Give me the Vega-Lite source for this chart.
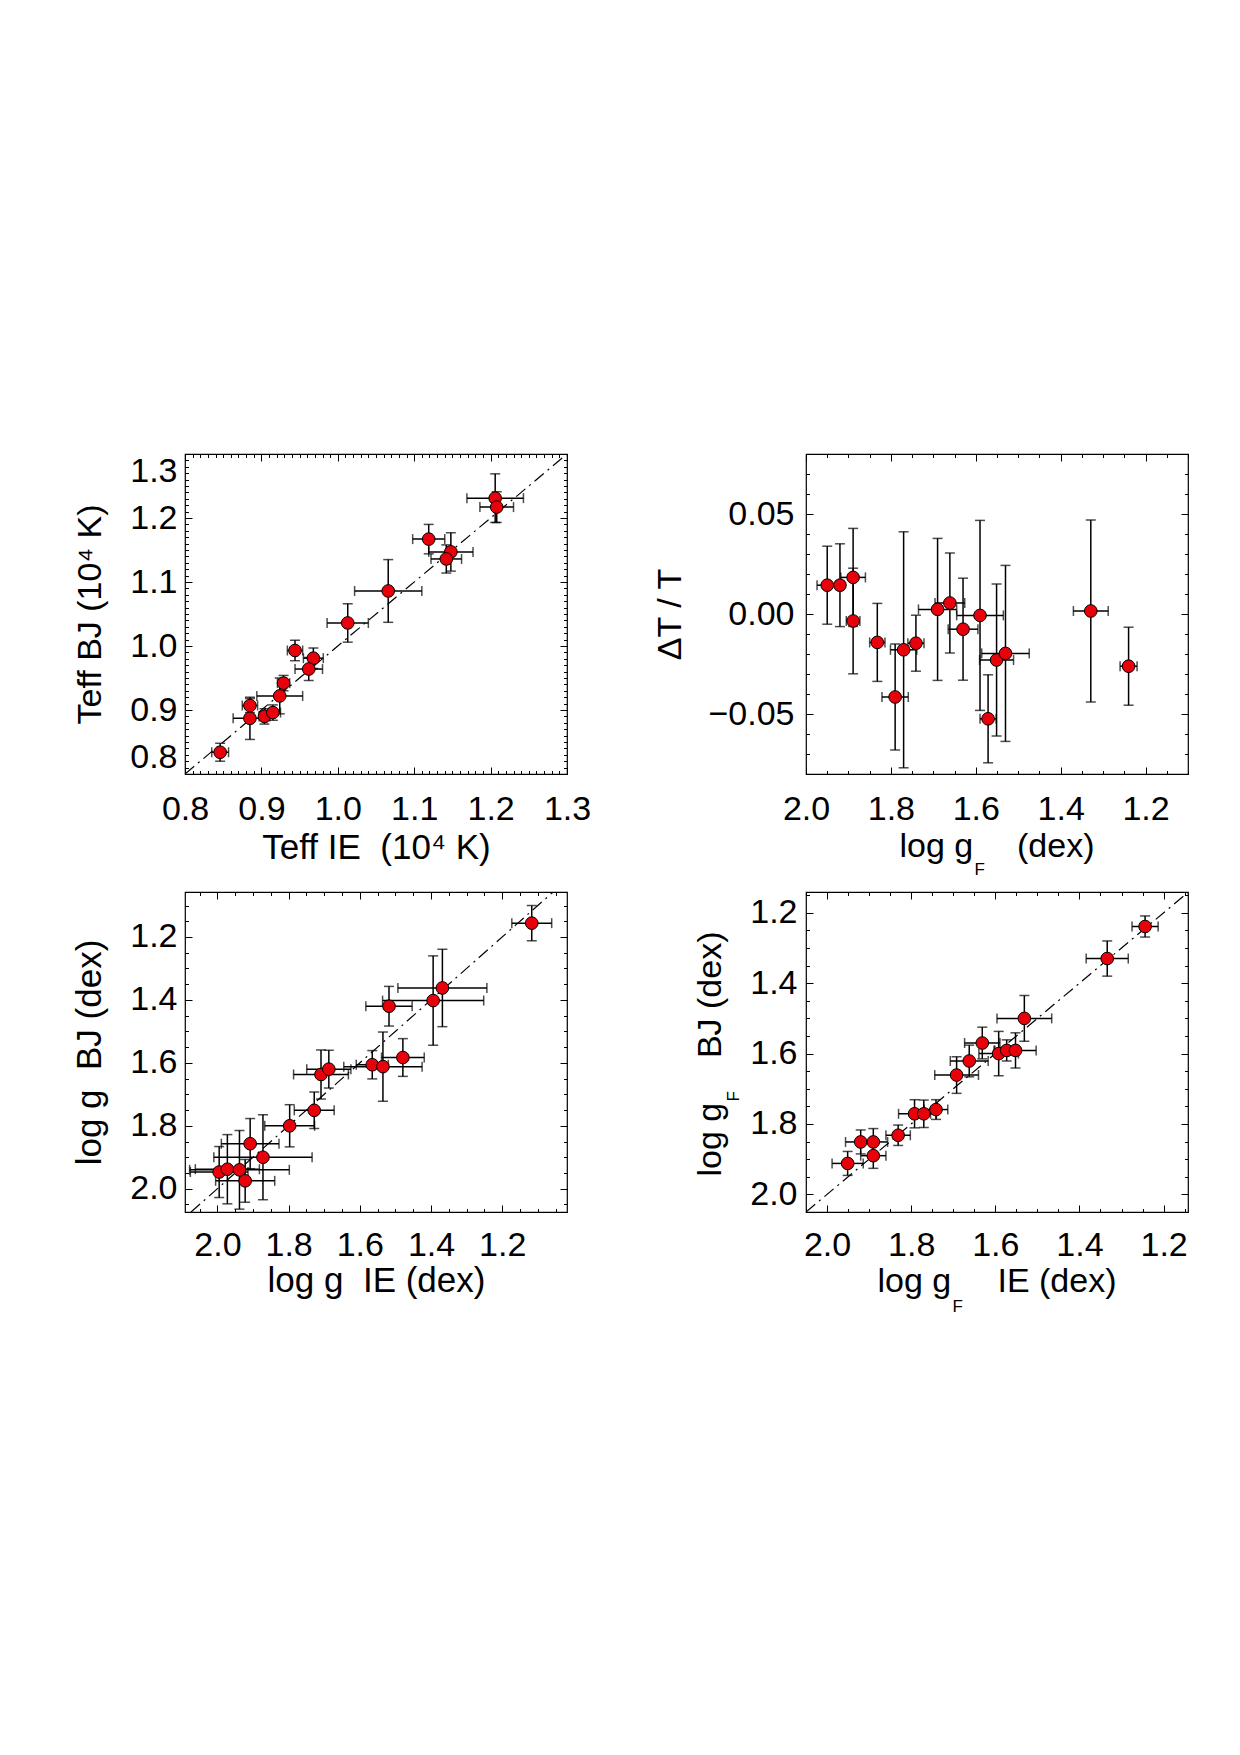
{
"$schema": "https://vega.github.io/schema/vega-lite/v6.json",
"background": "white",
"padding": {"left": 71, "top": 452, "right": 10, "bottom": 10},
"config": {
  "view": {"stroke": "black", "strokeWidth": 1.2},
  "axis": {"grid": false, "domain": false, "labelFont": "Liberation Sans", "titleFont": "Liberation Sans", "labelColor": "black", "titleColor": "black", "tickColor": "black", "labelFontSize": 34, "titleFontSize": 34, "titleFontWeight": "normal", "labelOverlap": false, "labelFlush": false, "tickWidth": 1}
},
"datasets": {
  "teff": [
    {"x":0.846,"ex":0.011,"y":0.834,"ey":0.014},
    {"x":0.885,"ex":0.010,"y":0.907,"ey":0.011},
    {"x":0.885,"ex":0.022,"y":0.887,"ey":0.033},
    {"x":0.904,"ex":0.007,"y":0.890,"ey":0.012},
    {"x":0.915,"ex":0.010,"y":0.896,"ey":0.012},
    {"x":0.924,"ex":0.030,"y":0.922,"ey":0.028},
    {"x":0.929,"ex":0.008,"y":0.942,"ey":0.012},
    {"x":0.944,"ex":0.010,"y":0.993,"ey":0.016},
    {"x":0.968,"ex":0.013,"y":0.981,"ey":0.016},
    {"x":0.962,"ex":0.018,"y":0.964,"ey":0.018},
    {"x":1.013,"ex":0.027,"y":1.036,"ey":0.030},
    {"x":1.066,"ex":0.044,"y":1.086,"ey":0.049},
    {"x":1.119,"ex":0.021,"y":1.167,"ey":0.023},
    {"x":1.148,"ex":0.029,"y":1.147,"ey":0.030},
    {"x":1.142,"ex":0.020,"y":1.136,"ey":0.022},
    {"x":1.206,"ex":0.037,"y":1.231,"ey":0.038},
    {"x":1.208,"ex":0.022,"y":1.217,"ey":0.024}
  ],
  "dt": [
    {"x":1.950,"ex":0.024,"y":0.0144,"ey":0.0195},
    {"x":1.920,"ex":0.010,"y":0.0144,"ey":0.0207},
    {"x":1.889,"ex":0.029,"y":0.0183,"ey":0.0245},
    {"x":1.889,"ex":0.016,"y":-0.0035,"ey":0.0264},
    {"x":1.832,"ex":0.018,"y":-0.0142,"ey":0.0195},
    {"x":1.790,"ex":0.031,"y":-0.0415,"ey":0.0265},
    {"x":1.770,"ex":0.031,"y":-0.0179,"ey":0.059},
    {"x":1.741,"ex":0.019,"y":-0.0146,"ey":0.014},
    {"x":1.690,"ex":0.045,"y":0.0023,"ey":0.0355},
    {"x":1.661,"ex":0.035,"y":0.0055,"ey":0.025},
    {"x":1.630,"ex":0.035,"y":-0.0076,"ey":0.0255},
    {"x":1.590,"ex":0.055,"y":-0.0007,"ey":0.0475},
    {"x":1.571,"ex":0.019,"y":-0.0524,"ey":0.022},
    {"x":1.551,"ex":0.040,"y":-0.0230,"ey":0.038},
    {"x":1.530,"ex":0.056,"y":-0.0197,"ey":0.044},
    {"x":1.329,"ex":0.041,"y":0.0015,"ey":0.0455},
    {"x":1.240,"ex":0.020,"y":-0.0261,"ey":0.0195}
  ],
  "logg": [
    {"x":1.995,"ex":0.081,"y":1.947,"ey":0.081},
    {"x":1.972,"ex":0.090,"y":1.938,"ey":0.110},
    {"x":1.938,"ex":0.140,"y":1.940,"ey":0.125},
    {"x":1.922,"ex":0.083,"y":1.975,"ey":0.068},
    {"x":1.908,"ex":0.081,"y":1.857,"ey":0.080},
    {"x":1.872,"ex":0.138,"y":1.900,"ey":0.135},
    {"x":1.797,"ex":0.070,"y":1.800,"ey":0.067},
    {"x":1.728,"ex":0.056,"y":1.751,"ey":0.058},
    {"x":1.709,"ex":0.077,"y":1.637,"ey":0.078},
    {"x":1.687,"ex":0.062,"y":1.620,"ey":0.060},
    {"x":1.565,"ex":0.045,"y":1.606,"ey":0.045},
    {"x":1.535,"ex":0.110,"y":1.612,"ey":0.110},
    {"x":1.479,"ex":0.060,"y":1.583,"ey":0.060},
    {"x":1.518,"ex":0.065,"y":1.420,"ey":0.063},
    {"x":1.394,"ex":0.142,"y":1.402,"ey":0.142},
    {"x":1.368,"ex":0.125,"y":1.362,"ey":0.123},
    {"x":1.117,"ex":0.056,"y":1.156,"ey":0.056}
  ],
  "loggf": [
    {"x":1.951,"ex":0.037,"y":1.912,"ey":0.034},
    {"x":1.920,"ex":0.036,"y":1.851,"ey":0.034},
    {"x":1.890,"ex":0.034,"y":1.851,"ey":0.038},
    {"x":1.890,"ex":0.030,"y":1.890,"ey":0.036},
    {"x":1.831,"ex":0.029,"y":1.832,"ey":0.029},
    {"x":1.792,"ex":0.038,"y":1.771,"ey":0.040},
    {"x":1.770,"ex":0.030,"y":1.771,"ey":0.039},
    {"x":1.741,"ex":0.028,"y":1.759,"ey":0.028},
    {"x":1.692,"ex":0.052,"y":1.661,"ey":0.052},
    {"x":1.662,"ex":0.045,"y":1.621,"ey":0.045},
    {"x":1.631,"ex":0.042,"y":1.570,"ey":0.045},
    {"x":1.592,"ex":0.047,"y":1.600,"ey":0.063},
    {"x":1.573,"ex":0.030,"y":1.591,"ey":0.030},
    {"x":1.552,"ex":0.049,"y":1.591,"ey":0.050},
    {"x":1.531,"ex":0.065,"y":1.500,"ey":0.065},
    {"x":1.334,"ex":0.050,"y":1.330,"ey":0.050},
    {"x":1.244,"ex":0.031,"y":1.239,"ey":0.030}
  ],
  "diag1": [{"x":0.8,"y":0.8},{"x":1.3,"y":1.3}],
  "diag3": [{"x":1.057,"y":1.057},{"x":2.074,"y":2.074}],
  "diag4": [{"x":1.142,"y":1.142},{"x":2.05,"y":2.05}]
},
"columns": 2,
"spacing": {"row": 118, "column": 239},
"bounds": "flush",
"concat": [
{
  "width": 382, "height": 320,
  "data": {"name": "teff"},
  "resolve": {"axis": {"x": "independent", "y": "independent"}},
  "layer": [
    {"data": {"name": "diag1"},
     "mark": {"type": "line", "color": "black", "strokeWidth": 1.2, "strokeDash": [12, 5, 2, 5], "clip": true},
     "encoding": {
       "x": {"field": "x", "type": "quantitative", "scale": {"domain": [0.8, 1.3], "nice": false, "zero": false},
             "axis": {"orient": "bottom", "values": [0.8, 0.9, 1.0, 1.1, 1.2, 1.3], "format": ".1f", "ticks": false, "labelPadding": 45, "labelBaseline": "alphabetic", "title": "Teff IE\u00a0\u00a0(10⁴ K)", "titleFontSize": 35, "titleX": 191, "titleY": 84, "titleAlign": "center", "titleBaseline": "alphabetic", "titleAngle": 0}},
       "y": {"field": "y", "type": "quantitative", "scale": {"domain": [0.8, 1.3], "nice": false, "zero": false},
             "axis": {"orient": "left", "values": [0.8, 0.9, 1.0, 1.1, 1.2, 1.3], "format": ".1f", "ticks": false, "labelPadding": 8, "labelFlush": true, "title": "Teff BJ (10⁴ K)", "titleX": -85, "titleY": 160, "titleAlign": "center", "titleBaseline": "alphabetic", "titleAngle": 270}}
     }},
    {"mark": {"type": "errorbar", "color": "black", "thickness": 1.5, "ticks": {"size": 10, "color": "black"}},
     "encoding": {
       "x": {"field": "x", "type": "quantitative", "scale": {"domain": [0.8, 1.3], "nice": false, "zero": false}, "axis": null},
       "xError": {"field": "ex"},
       "y": {"field": "y", "type": "quantitative", "scale": {"domain": [0.8, 1.3], "nice": false, "zero": false}, "axis": null}
     }},
    {"mark": {"type": "errorbar", "color": "black", "thickness": 1.5, "ticks": {"size": 10, "color": "black"}},
     "encoding": {
       "y": {"field": "y", "type": "quantitative", "scale": {"domain": [0.8, 1.3], "nice": false, "zero": false}, "axis": null},
       "yError": {"field": "ey"},
       "x": {"field": "x", "type": "quantitative", "scale": {"domain": [0.8, 1.3], "nice": false, "zero": false}, "axis": null}
     }},
    {"mark": {"type": "point", "shape": "circle", "filled": true, "fill": "#e8000b", "stroke": "black", "strokeWidth": 1, "size": 160, "opacity": 1},
     "encoding": {
       "x": {"field": "x", "type": "quantitative", "scale": {"domain": [0.8, 1.3], "nice": false, "zero": false},
             "axis": {"orient": "bottom", "values": [0.8, 0.9, 1.0, 1.1, 1.2, 1.3], "labels": false, "ticks": true, "tickSize": -7, "title": null}},
       "y": {"field": "y", "type": "quantitative", "scale": {"domain": [0.8, 1.3], "nice": false, "zero": false},
             "axis": {"orient": "left", "values": [0.8, 0.9, 1.0, 1.1, 1.2, 1.3], "labels": false, "ticks": true, "tickSize": -7, "title": null}}
     }},
    {"mark": {"type": "point", "opacity": 0},
     "encoding": {
       "x": {"field": "x", "type": "quantitative", "scale": {"domain": [0.8, 1.3], "nice": false, "zero": false},
             "axis": {"orient": "top", "values": [0.8, 0.9, 1.0, 1.1, 1.2, 1.3], "labels": false, "ticks": true, "tickSize": -7, "title": null}},
       "y": {"field": "y", "type": "quantitative", "scale": {"domain": [0.8, 1.3], "nice": false, "zero": false},
             "axis": {"orient": "right", "values": [0.8, 0.9, 1.0, 1.1, 1.2, 1.3], "labels": false, "ticks": true, "tickSize": -7, "title": null}}
     }},
    {"mark": {"type": "point", "opacity": 0},
     "encoding": {
       "x": {"field": "x", "type": "quantitative", "scale": {"domain": [0.8, 1.3], "nice": false, "zero": false},
             "axis": {"orient": "bottom", "values": [0.8,0.81,0.82,0.83,0.84,0.85,0.86,0.87,0.88,0.89,0.9,0.91,0.92,0.93,0.94,0.95,0.96,0.97,0.98,0.99,1.0,1.01,1.02,1.03,1.04,1.05,1.06,1.07,1.08,1.09,1.1,1.11,1.12,1.13,1.14,1.15,1.16,1.17,1.18,1.19,1.2,1.21,1.22,1.23,1.24,1.25,1.26,1.27,1.28,1.29,1.3], "labels": false, "ticks": true, "tickSize": -3.5, "title": null}},
       "y": {"field": "y", "type": "quantitative", "scale": {"domain": [0.8, 1.3], "nice": false, "zero": false},
             "axis": {"orient": "left", "values": [0.8,0.81,0.82,0.83,0.84,0.85,0.86,0.87,0.88,0.89,0.9,0.91,0.92,0.93,0.94,0.95,0.96,0.97,0.98,0.99,1.0,1.01,1.02,1.03,1.04,1.05,1.06,1.07,1.08,1.09,1.1,1.11,1.12,1.13,1.14,1.15,1.16,1.17,1.18,1.19,1.2,1.21,1.22,1.23,1.24,1.25,1.26,1.27,1.28,1.29,1.3], "labels": false, "ticks": true, "tickSize": -3.5, "title": null}}
     }},
    {"mark": {"type": "point", "opacity": 0},
     "encoding": {
       "x": {"field": "x", "type": "quantitative", "scale": {"domain": [0.8, 1.3], "nice": false, "zero": false},
             "axis": {"orient": "top", "values": [0.8,0.81,0.82,0.83,0.84,0.85,0.86,0.87,0.88,0.89,0.9,0.91,0.92,0.93,0.94,0.95,0.96,0.97,0.98,0.99,1.0,1.01,1.02,1.03,1.04,1.05,1.06,1.07,1.08,1.09,1.1,1.11,1.12,1.13,1.14,1.15,1.16,1.17,1.18,1.19,1.2,1.21,1.22,1.23,1.24,1.25,1.26,1.27,1.28,1.29,1.3], "labels": false, "ticks": true, "tickSize": -3.5, "title": null}},
       "y": {"field": "y", "type": "quantitative", "scale": {"domain": [0.8, 1.3], "nice": false, "zero": false},
             "axis": {"orient": "right", "values": [0.8,0.81,0.82,0.83,0.84,0.85,0.86,0.87,0.88,0.89,0.9,0.91,0.92,0.93,0.94,0.95,0.96,0.97,0.98,0.99,1.0,1.01,1.02,1.03,1.04,1.05,1.06,1.07,1.08,1.09,1.1,1.11,1.12,1.13,1.14,1.15,1.16,1.17,1.18,1.19,1.2,1.21,1.22,1.23,1.24,1.25,1.26,1.27,1.28,1.29,1.3], "labels": false, "ticks": true, "tickSize": -3.5, "title": null}}
     }}
  ]
},
{
  "width": 382, "height": 320,
  "data": {"name": "dt"},
  "resolve": {"axis": {"x": "independent", "y": "independent"}},
  "layer": [
    {"mark": {"type": "point", "opacity": 0},
     "encoding": {
       "x": {"field": "x", "type": "quantitative", "scale": {"domain": [1.1, 2.0], "reverse": true, "nice": false, "zero": false},
             "axis": {"orient": "bottom", "values": [1.2, 1.4, 1.6, 1.8, 2.0], "format": ".1f", "ticks": false, "labelPadding": 45, "labelBaseline": "alphabetic", "title": "log g", "titleX": 93, "titleY": 82, "titleAlign": "left", "titleBaseline": "alphabetic", "titleAngle": 0}},
       "y": {"field": "y", "type": "quantitative", "scale": {"domain": [-0.08, 0.08], "nice": false, "zero": false},
             "axis": {"orient": "left", "values": [-0.05, 0, 0.05], "format": ".2f", "ticks": false, "labelPadding": 12, "title": "ΔT / T", "titleX": -126, "titleY": 160, "titleAlign": "center", "titleBaseline": "alphabetic", "titleAngle": 270}}
     }},
    {"mark": {"type": "errorbar", "color": "black", "thickness": 1.5, "ticks": {"size": 10, "color": "black"}},
     "encoding": {
       "x": {"field": "x", "type": "quantitative", "scale": {"domain": [1.1, 2.0], "reverse": true, "nice": false, "zero": false}, "axis": null},
       "xError": {"field": "ex"},
       "y": {"field": "y", "type": "quantitative", "scale": {"domain": [-0.08, 0.08], "nice": false, "zero": false}, "axis": null}
     }},
    {"mark": {"type": "errorbar", "color": "black", "thickness": 1.5, "ticks": {"size": 10, "color": "black"}},
     "encoding": {
       "y": {"field": "y", "type": "quantitative", "scale": {"domain": [-0.08, 0.08], "nice": false, "zero": false}, "axis": null},
       "yError": {"field": "ey"},
       "x": {"field": "x", "type": "quantitative", "scale": {"domain": [1.1, 2.0], "reverse": true, "nice": false, "zero": false}, "axis": null}
     }},
    {"mark": {"type": "point", "shape": "circle", "filled": true, "fill": "#e8000b", "stroke": "black", "strokeWidth": 1, "size": 160, "opacity": 1},
     "encoding": {
       "x": {"field": "x", "type": "quantitative", "scale": {"domain": [1.1, 2.0], "reverse": true, "nice": false, "zero": false},
             "axis": {"orient": "bottom", "values": [1.2, 1.4, 1.6, 1.8, 2.0], "labels": false, "ticks": true, "tickSize": -7, "title": null}},
       "y": {"field": "y", "type": "quantitative", "scale": {"domain": [-0.08, 0.08], "nice": false, "zero": false},
             "axis": {"orient": "left", "values": [-0.05, 0, 0.05], "labels": false, "ticks": true, "tickSize": -7, "title": null}}
     }},
    {"mark": {"type": "point", "opacity": 0},
     "encoding": {
       "x": {"field": "x", "type": "quantitative", "scale": {"domain": [1.1, 2.0], "reverse": true, "nice": false, "zero": false},
             "axis": {"orient": "top", "values": [1.2, 1.4, 1.6, 1.8, 2.0], "labels": false, "ticks": true, "tickSize": -7, "title": null}},
       "y": {"field": "y", "type": "quantitative", "scale": {"domain": [-0.08, 0.08], "nice": false, "zero": false},
             "axis": {"orient": "right", "values": [-0.05, 0, 0.05], "labels": false, "ticks": true, "tickSize": -7, "title": null}}
     }},
    {"mark": {"type": "point", "opacity": 0},
     "encoding": {
       "x": {"field": "x", "type": "quantitative", "scale": {"domain": [1.1, 2.0], "reverse": true, "nice": false, "zero": false},
             "axis": {"orient": "bottom", "values": [1.1,1.15,1.2,1.25,1.3,1.35,1.4,1.45,1.5,1.55,1.6,1.65,1.7,1.75,1.8,1.85,1.9,1.95,2.0], "labels": false, "ticks": true, "tickSize": -3.5, "title": null}},
       "y": {"field": "y", "type": "quantitative", "scale": {"domain": [-0.08, 0.08], "nice": false, "zero": false},
             "axis": {"orient": "left", "values": [-0.08,-0.07,-0.06,-0.05,-0.04,-0.03,-0.02,-0.01,0,0.01,0.02,0.03,0.04,0.05,0.06,0.07,0.08], "labels": false, "ticks": true, "tickSize": -3.5, "title": null}}
     }},
    {"mark": {"type": "point", "opacity": 0},
     "encoding": {
       "x": {"field": "x", "type": "quantitative", "scale": {"domain": [1.1, 2.0], "reverse": true, "nice": false, "zero": false},
             "axis": {"orient": "top", "values": [1.1,1.15,1.2,1.25,1.3,1.35,1.4,1.45,1.5,1.55,1.6,1.65,1.7,1.75,1.8,1.85,1.9,1.95,2.0], "labels": false, "ticks": true, "tickSize": -3.5, "title": null}},
       "y": {"field": "y", "type": "quantitative", "scale": {"domain": [-0.08, 0.08], "nice": false, "zero": false},
             "axis": {"orient": "right", "values": [-0.08,-0.07,-0.06,-0.05,-0.04,-0.03,-0.02,-0.01,0,0.01,0.02,0.03,0.04,0.05,0.06,0.07,0.08], "labels": false, "ticks": true, "tickSize": -3.5, "title": null}}
     }},
    {"mark": {"type": "point", "opacity": 0},
     "encoding": {
       "x": {"field": "x", "type": "quantitative", "scale": {"domain": [1.1, 2.0], "reverse": true, "nice": false, "zero": false},
             "axis": {"orient": "bottom", "labels": false, "ticks": false, "title": "F", "titleFontSize": 17, "titleX": 168, "titleY": 100, "titleAlign": "left", "titleBaseline": "alphabetic", "titleAngle": 0}},
       "y": {"field": "y", "type": "quantitative", "scale": {"domain": [-0.08, 0.08], "nice": false, "zero": false}, "axis": null}
     }},
    {"mark": {"type": "point", "opacity": 0},
     "encoding": {
       "x": {"field": "x", "type": "quantitative", "scale": {"domain": [1.1, 2.0], "reverse": true, "nice": false, "zero": false},
             "axis": {"orient": "bottom", "labels": false, "ticks": false, "title": "(dex)", "titleX": 288, "titleY": 82, "titleAlign": "right", "titleBaseline": "alphabetic", "titleAngle": 0}},
       "y": {"field": "y", "type": "quantitative", "scale": {"domain": [-0.08, 0.08], "nice": false, "zero": false}, "axis": null}
     }}
  ]
},
{
  "width": 382, "height": 320,
  "data": {"name": "logg"},
  "resolve": {"axis": {"x": "independent", "y": "independent"}},
  "layer": [
    {"data": {"name": "diag3"},
     "mark": {"type": "line", "color": "black", "strokeWidth": 1.2, "strokeDash": [12, 5, 2, 5], "clip": true},
     "encoding": {
       "x": {"field": "x", "type": "quantitative", "scale": {"domain": [1.018, 2.091], "reverse": true, "nice": false, "zero": false},
             "axis": {"orient": "bottom", "values": [1.2, 1.4, 1.6, 1.8, 2.0], "format": ".1f", "ticks": false, "labelPadding": 43, "labelBaseline": "alphabetic", "title": "log g\u00a0\u00a0IE (dex)", "titleFontSize": 35, "titleX": 191, "titleY": 79, "titleAlign": "center", "titleBaseline": "alphabetic", "titleAngle": 0}},
       "y": {"field": "y", "type": "quantitative", "scale": {"domain": [1.057, 2.074], "reverse": true, "nice": false, "zero": false},
             "axis": {"orient": "left", "values": [1.2, 1.4, 1.6, 1.8, 2.0], "format": ".1f", "ticks": false, "labelPadding": 8, "title": "log g\u00a0\u00a0BJ (dex)", "titleFontSize": 35, "titleX": -85, "titleY": 160, "titleAlign": "center", "titleBaseline": "alphabetic", "titleAngle": 270}}
     }},
    {"mark": {"type": "errorbar", "color": "black", "thickness": 1.5, "ticks": {"size": 10, "color": "black"}},
     "encoding": {
       "x": {"field": "x", "type": "quantitative", "scale": {"domain": [1.018, 2.091], "reverse": true, "nice": false, "zero": false}, "axis": null},
       "xError": {"field": "ex"},
       "y": {"field": "y", "type": "quantitative", "scale": {"domain": [1.057, 2.074], "reverse": true, "nice": false, "zero": false}, "axis": null}
     }},
    {"mark": {"type": "errorbar", "color": "black", "thickness": 1.5, "ticks": {"size": 10, "color": "black"}},
     "encoding": {
       "y": {"field": "y", "type": "quantitative", "scale": {"domain": [1.057, 2.074], "reverse": true, "nice": false, "zero": false}, "axis": null},
       "yError": {"field": "ey"},
       "x": {"field": "x", "type": "quantitative", "scale": {"domain": [1.018, 2.091], "reverse": true, "nice": false, "zero": false}, "axis": null}
     }},
    {"mark": {"type": "point", "shape": "circle", "filled": true, "fill": "#e8000b", "stroke": "black", "strokeWidth": 1, "size": 160, "opacity": 1},
     "encoding": {
       "x": {"field": "x", "type": "quantitative", "scale": {"domain": [1.018, 2.091], "reverse": true, "nice": false, "zero": false},
             "axis": {"orient": "bottom", "values": [1.2, 1.4, 1.6, 1.8, 2.0], "labels": false, "ticks": true, "tickSize": -7, "title": null}},
       "y": {"field": "y", "type": "quantitative", "scale": {"domain": [1.057, 2.074], "reverse": true, "nice": false, "zero": false},
             "axis": {"orient": "left", "values": [1.2, 1.4, 1.6, 1.8, 2.0], "labels": false, "ticks": true, "tickSize": -7, "title": null}}
     }},
    {"mark": {"type": "point", "opacity": 0},
     "encoding": {
       "x": {"field": "x", "type": "quantitative", "scale": {"domain": [1.018, 2.091], "reverse": true, "nice": false, "zero": false},
             "axis": {"orient": "top", "values": [1.2, 1.4, 1.6, 1.8, 2.0], "labels": false, "ticks": true, "tickSize": -7, "title": null}},
       "y": {"field": "y", "type": "quantitative", "scale": {"domain": [1.057, 2.074], "reverse": true, "nice": false, "zero": false},
             "axis": {"orient": "right", "values": [1.2, 1.4, 1.6, 1.8, 2.0], "labels": false, "ticks": true, "tickSize": -7, "title": null}}
     }},
    {"mark": {"type": "point", "opacity": 0},
     "encoding": {
       "x": {"field": "x", "type": "quantitative", "scale": {"domain": [1.018, 2.091], "reverse": true, "nice": false, "zero": false},
             "axis": {"orient": "bottom", "values": [1.05,1.1,1.15,1.2,1.25,1.3,1.35,1.4,1.45,1.5,1.55,1.6,1.65,1.7,1.75,1.8,1.85,1.9,1.95,2.0,2.05], "labels": false, "ticks": true, "tickSize": -3.5, "title": null}},
       "y": {"field": "y", "type": "quantitative", "scale": {"domain": [1.057, 2.074], "reverse": true, "nice": false, "zero": false},
             "axis": {"orient": "left", "values": [1.1,1.15,1.2,1.25,1.3,1.35,1.4,1.45,1.5,1.55,1.6,1.65,1.7,1.75,1.8,1.85,1.9,1.95,2.0,2.05], "labels": false, "ticks": true, "tickSize": -3.5, "title": null}}
     }},
    {"mark": {"type": "point", "opacity": 0},
     "encoding": {
       "x": {"field": "x", "type": "quantitative", "scale": {"domain": [1.018, 2.091], "reverse": true, "nice": false, "zero": false},
             "axis": {"orient": "top", "values": [1.05,1.1,1.15,1.2,1.25,1.3,1.35,1.4,1.45,1.5,1.55,1.6,1.65,1.7,1.75,1.8,1.85,1.9,1.95,2.0,2.05], "labels": false, "ticks": true, "tickSize": -3.5, "title": null}},
       "y": {"field": "y", "type": "quantitative", "scale": {"domain": [1.057, 2.074], "reverse": true, "nice": false, "zero": false},
             "axis": {"orient": "right", "values": [1.1,1.15,1.2,1.25,1.3,1.35,1.4,1.45,1.5,1.55,1.6,1.65,1.7,1.75,1.8,1.85,1.9,1.95,2.0,2.05], "labels": false, "ticks": true, "tickSize": -3.5, "title": null}}
     }}
  ]
},
{
  "width": 382, "height": 320,
  "data": {"name": "loggf"},
  "resolve": {"axis": {"x": "independent", "y": "independent"}},
  "layer": [
    {"data": {"name": "diag4"},
     "mark": {"type": "line", "color": "black", "strokeWidth": 1.2, "strokeDash": [12, 5, 2, 5], "clip": true},
     "encoding": {
       "x": {"field": "x", "type": "quantitative", "scale": {"domain": [1.142, 2.05], "reverse": true, "nice": false, "zero": false},
             "axis": {"orient": "bottom", "values": [1.2, 1.4, 1.6, 1.8, 2.0], "format": ".1f", "ticks": false, "labelPadding": 43, "labelBaseline": "alphabetic", "title": "log g", "titleX": 71, "titleY": 79, "titleAlign": "left", "titleBaseline": "alphabetic", "titleAngle": 0}},
       "y": {"field": "y", "type": "quantitative", "scale": {"domain": [1.141, 2.05], "reverse": true, "nice": false, "zero": false},
             "axis": {"orient": "left", "values": [1.2, 1.4, 1.6, 1.8, 2.0], "format": ".1f", "ticks": false, "labelPadding": 9, "title": "log g", "titleX": -86, "titleY": 284, "titleAlign": "left", "titleBaseline": "alphabetic", "titleAngle": 270}}
     }},
    {"mark": {"type": "errorbar", "color": "black", "thickness": 1.5, "ticks": {"size": 10, "color": "black"}},
     "encoding": {
       "x": {"field": "x", "type": "quantitative", "scale": {"domain": [1.142, 2.05], "reverse": true, "nice": false, "zero": false}, "axis": null},
       "xError": {"field": "ex"},
       "y": {"field": "y", "type": "quantitative", "scale": {"domain": [1.141, 2.05], "reverse": true, "nice": false, "zero": false}, "axis": null}
     }},
    {"mark": {"type": "errorbar", "color": "black", "thickness": 1.5, "ticks": {"size": 10, "color": "black"}},
     "encoding": {
       "y": {"field": "y", "type": "quantitative", "scale": {"domain": [1.141, 2.05], "reverse": true, "nice": false, "zero": false}, "axis": null},
       "yError": {"field": "ey"},
       "x": {"field": "x", "type": "quantitative", "scale": {"domain": [1.142, 2.05], "reverse": true, "nice": false, "zero": false}, "axis": null}
     }},
    {"mark": {"type": "point", "shape": "circle", "filled": true, "fill": "#e8000b", "stroke": "black", "strokeWidth": 1, "size": 160, "opacity": 1},
     "encoding": {
       "x": {"field": "x", "type": "quantitative", "scale": {"domain": [1.142, 2.05], "reverse": true, "nice": false, "zero": false},
             "axis": {"orient": "bottom", "values": [1.2, 1.4, 1.6, 1.8, 2.0], "labels": false, "ticks": true, "tickSize": -7, "title": null}},
       "y": {"field": "y", "type": "quantitative", "scale": {"domain": [1.141, 2.05], "reverse": true, "nice": false, "zero": false},
             "axis": {"orient": "left", "values": [1.2, 1.4, 1.6, 1.8, 2.0], "labels": false, "ticks": true, "tickSize": -7, "title": null}}
     }},
    {"mark": {"type": "point", "opacity": 0},
     "encoding": {
       "x": {"field": "x", "type": "quantitative", "scale": {"domain": [1.142, 2.05], "reverse": true, "nice": false, "zero": false},
             "axis": {"orient": "top", "values": [1.2, 1.4, 1.6, 1.8, 2.0], "labels": false, "ticks": true, "tickSize": -7, "title": null}},
       "y": {"field": "y", "type": "quantitative", "scale": {"domain": [1.141, 2.05], "reverse": true, "nice": false, "zero": false},
             "axis": {"orient": "right", "values": [1.2, 1.4, 1.6, 1.8, 2.0], "labels": false, "ticks": true, "tickSize": -7, "title": null}}
     }},
    {"mark": {"type": "point", "opacity": 0},
     "encoding": {
       "x": {"field": "x", "type": "quantitative", "scale": {"domain": [1.142, 2.05], "reverse": true, "nice": false, "zero": false},
             "axis": {"orient": "bottom", "values": [1.15,1.2,1.25,1.3,1.35,1.4,1.45,1.5,1.55,1.6,1.65,1.7,1.75,1.8,1.85,1.9,1.95,2.0,2.05], "labels": false, "ticks": true, "tickSize": -3.5, "title": null}},
       "y": {"field": "y", "type": "quantitative", "scale": {"domain": [1.141, 2.05], "reverse": true, "nice": false, "zero": false},
             "axis": {"orient": "left", "values": [1.15,1.2,1.25,1.3,1.35,1.4,1.45,1.5,1.55,1.6,1.65,1.7,1.75,1.8,1.85,1.9,1.95,2.0,2.05], "labels": false, "ticks": true, "tickSize": -3.5, "title": null}}
     }},
    {"mark": {"type": "point", "opacity": 0},
     "encoding": {
       "x": {"field": "x", "type": "quantitative", "scale": {"domain": [1.142, 2.05], "reverse": true, "nice": false, "zero": false},
             "axis": {"orient": "top", "values": [1.15,1.2,1.25,1.3,1.35,1.4,1.45,1.5,1.55,1.6,1.65,1.7,1.75,1.8,1.85,1.9,1.95,2.0,2.05], "labels": false, "ticks": true, "tickSize": -3.5, "title": null}},
       "y": {"field": "y", "type": "quantitative", "scale": {"domain": [1.141, 2.05], "reverse": true, "nice": false, "zero": false},
             "axis": {"orient": "right", "values": [1.15,1.2,1.25,1.3,1.35,1.4,1.45,1.5,1.55,1.6,1.65,1.7,1.75,1.8,1.85,1.9,1.95,2.0,2.05], "labels": false, "ticks": true, "tickSize": -3.5, "title": null}}
     }},
    {"mark": {"type": "point", "opacity": 0},
     "encoding": {
       "x": {"field": "x", "type": "quantitative", "scale": {"domain": [1.142, 2.05], "reverse": true, "nice": false, "zero": false},
             "axis": {"orient": "bottom", "labels": false, "ticks": false, "title": "F", "titleFontSize": 17, "titleX": 146, "titleY": 99, "titleAlign": "left", "titleBaseline": "alphabetic", "titleAngle": 0}},
       "y": {"field": "y", "type": "quantitative", "scale": {"domain": [1.141, 2.05], "reverse": true, "nice": false, "zero": false},
             "axis": {"orient": "left", "labels": false, "ticks": false, "title": "F", "titleFontSize": 17, "titleX": -68, "titleY": 209, "titleAlign": "left", "titleBaseline": "alphabetic", "titleAngle": 270}}
     }},
    {"mark": {"type": "point", "opacity": 0},
     "encoding": {
       "x": {"field": "x", "type": "quantitative", "scale": {"domain": [1.142, 2.05], "reverse": true, "nice": false, "zero": false},
             "axis": {"orient": "bottom", "labels": false, "ticks": false, "title": "IE (dex)", "titleX": 310, "titleY": 79, "titleAlign": "right", "titleBaseline": "alphabetic", "titleAngle": 0}},
       "y": {"field": "y", "type": "quantitative", "scale": {"domain": [1.141, 2.05], "reverse": true, "nice": false, "zero": false},
             "axis": {"orient": "left", "labels": false, "ticks": false, "title": "BJ (dex)", "titleX": -86, "titleY": 39, "titleAlign": "right", "titleBaseline": "alphabetic", "titleAngle": 270}}
     }}
  ]
}
]
}
